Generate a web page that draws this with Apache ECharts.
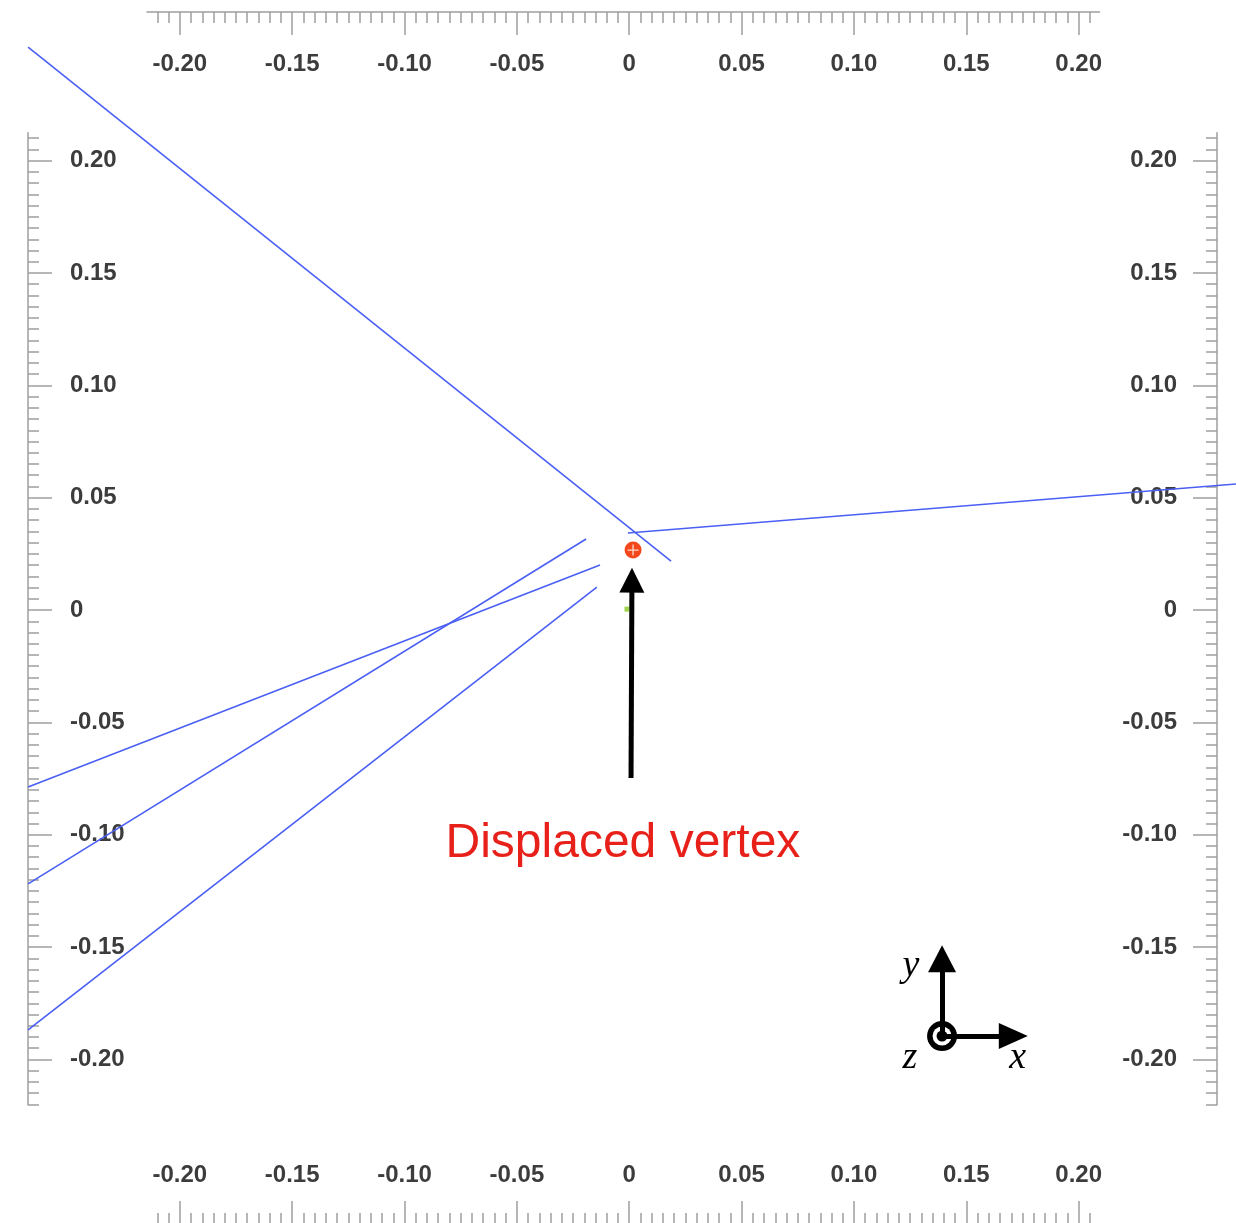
<!DOCTYPE html>
<html>
<head>
<meta charset="utf-8">
<title>Displaced vertex</title>
<script src="https://cdn.jsdelivr.net/npm/echarts@6/dist/echarts.min.js"></script>
<style>
  html, body { margin: 0; padding: 0; background: #fff; }
  #chart { width: 1236px; height: 1223px; }
</style>
</head>
<body>
<div id="chart"></div>
<script>
  // tracks, [x, y] in the transverse plane
  var track1 = [[-0.2675, 0.2505], [0.0186, 0.0218]]
  var track2 = [[-0.0006, 0.0343], [0.2700, 0.0561]]
  var track3 = [[-0.2675, -0.0788], [-0.0130, 0.0200]]
  var track4 = [[-0.2675, -0.1219], [-0.0192, 0.0316]]
  var track5 = [[-0.2675, -0.1869], [-0.0144, 0.0102]]

  var vertexPos = [0.0017, 0.0267]
  var beamSpot = [-0.0010, 0.0004]

  // annotation arrow and the x/y/z sketch
  var arrowTail = [0.0008, -0.0748]
  var arrowHead = [0.0012, 0.0133]
  var textPos = [-0.0028, -0.1042]
  var axesOrigin = [0.1392, -0.1896]
  var axesYTip = [0.1392, -0.1552]
  var axesXTip = [0.1709, -0.1896]
  var labelY = [0.1254, -0.1585]
  var labelZ = [0.1249, -0.1995]
  var labelX = [0.1729, -0.1995]

  // ruler ticks
  var majorTicks = [-0.20, -0.15, -0.10, -0.05, 0, 0.05, 0.10, 0.15, 0.20]
  var hRange = [-0.2146, 0.2093]
  var vRange = [-0.2202, 0.2124]

  var X_MIN = -0.28, X_MAX = 0.27, Y_MIN = -0.2728, Y_MAX = 0.2715
  var W = 1236, H = 1223
  function xPx(v) { return (v - X_MIN) * W / (X_MAX - X_MIN) }
  function yPx(v) { return (Y_MAX - v) * H / (Y_MAX - Y_MIN) }

  function stepsIn(range, step) {
    var out = []
    var k0 = Math.ceil(range[0] / step - 1e-9)
    var k1 = Math.floor(range[1] / step + 1e-9)
    for (var k = k0; k <= k1; k++) out.push(Math.round(k * step * 1e6) / 1e6)
    return out
  }
  function fmt(v) { return Math.abs(v) < 1e-9 ? '0' : v.toFixed(2) }

  var tickColor = '#9e9e9e'
  var labelStyle = { fontSize: 24, fontWeight: 'bold', color: '#3c3c3c', fontFamily: 'Liberation Sans, Arial, sans-serif' }

  var grids = [{ left: 0, top: 0, width: W, height: H, outerBoundsMode: 'none' }]
  var xAxes = [{ type: 'value', gridIndex: 0, min: X_MIN, max: X_MAX, show: false }]
  var yAxes = [{ type: 'value', gridIndex: 0, min: Y_MIN, max: Y_MAX, show: false }]

  function rulerAxis(range, position, ticks, len, labels, margin, showLine) {
    return {
      type: 'value', min: range[0], max: range[1], position: position,
      axisLine: { show: showLine, onZero: false, lineStyle: { color: tickColor, width: 1.5 } },
      axisTick: { show: true, inside: true, length: len, customValues: ticks, lineStyle: { color: tickColor, width: 1.5 } },
      axisLabel: Object.assign({ show: !!labels, inside: true, margin: margin, customValues: labels || [], formatter: fmt }, labelStyle),
      splitLine: { show: false }, minorTick: { show: false }
    }
  }

  function hRuler(top, position, margin) {
    var rect = { left: xPx(hRange[0]), width: xPx(hRange[1]) - xPx(hRange[0]), top: top, height: 10, outerBoundsMode: 'none' }
    var minor = stepsIn(hRange, 0.005)
    ;[[minor, 11, null, true], [majorTicks, 23, majorTicks, false]].forEach(function (d) {
      var gi = grids.length
      grids.push(Object.assign({}, rect))
      xAxes.push(Object.assign(rulerAxis(hRange, position, d[0], d[1], d[2], margin, d[3]), { gridIndex: gi }))
      yAxes.push({ type: 'value', gridIndex: gi, min: 0, max: 1, show: false })
    })
  }

  function vRuler(left, position, margin) {
    var rect = { top: yPx(vRange[1]), height: yPx(vRange[0]) - yPx(vRange[1]), left: left, width: 10, outerBoundsMode: 'none' }
    var minor = stepsIn(vRange, 0.005)
    ;[[minor, 11, null, true], [majorTicks, 24, majorTicks, false]].forEach(function (d) {
      var gi = grids.length
      grids.push(Object.assign({}, rect))
      yAxes.push(Object.assign(rulerAxis(vRange, position, d[0], d[1], d[2], margin, d[3]), { gridIndex: gi }))
      xAxes.push({ type: 'value', gridIndex: gi, min: 0, max: 1, show: false })
    })
  }

  hRuler(12, 'top', 40)
  hRuler(1214, 'bottom', 37)
  vRuler(28, 'left', 42)
  vRuler(1207, 'right', 40)

  function trackSeries(data) {
    return {
      type: 'line', data: data, symbol: 'none', clip: false, silent: true,
      lineStyle: { color: '#4a5ff4', width: 1.6 }
    }
  }

  function dot(pos, size, color, symbol) {
    return {
      type: 'scatter', data: [pos], symbol: symbol || 'circle', symbolSize: size, silent: true,
      itemStyle: { color: color, opacity: 1 }
    }
  }

  function arrow(from, to, size) {
    return [{ coord: from, symbol: 'none' }, { coord: to, symbol: 'triangle', symbolSize: size }]
  }

  function textSeries(pos, text, style) {
    return {
      type: 'scatter', data: [pos], symbolSize: 1, silent: true,
      itemStyle: { color: 'rgba(0,0,0,0)', opacity: 1 },
      label: Object.assign({ show: true, position: 'inside', formatter: text, align: 'center', verticalAlign: 'middle', opacity: 1 }, style)
    }
  }

  var serif = { fontFamily: 'Liberation Serif, Times New Roman, serif', fontStyle: 'italic', fontSize: 38, color: '#000' }

  var series = [
    trackSeries(track1), trackSeries(track2), trackSeries(track3), trackSeries(track4), trackSeries(track5),
    dot(beamSpot, 5, '#9fd54e', 'rect'),
    dot(vertexPos, 17, '#f4481c'),
    dot(vertexPos, 11, 'rgba(255,225,210,0.95)', 'path://M0,4.4h10v1.2h-10z M4.4,0h1.2v10h-1.2z'),
    {
      type: 'line', data: [], silent: true,
      markLine: {
        silent: true, animation: false,
        symbol: ['none', 'triangle'],
        label: { show: false },
        lineStyle: { color: '#000', width: 5, type: 'solid', opacity: 1 },
        emphasis: { disabled: true },
        data: [
          arrow(arrowTail, arrowHead, [25, 25]),
          arrow(axesOrigin, axesYTip, [28, 27]),
          arrow(axesOrigin, axesXTip, [26, 29])
        ]
      }
    },
    dot(axesOrigin, 30, '#000'),
    dot(axesOrigin, 19, '#fff'),
    dot(axesOrigin, 11, '#000'),
    textSeries(labelY, 'y', serif),
    textSeries(labelZ, 'z', serif),
    textSeries(labelX, 'x', serif),
    textSeries(textPos, 'Displaced vertex', { fontSize: 48, color: '#e8201a', fontFamily: 'Liberation Sans, Arial, sans-serif' })
  ]

  var chart = echarts.init(document.getElementById('chart'))
  chart.setOption({
    animation: false,
    backgroundColor: '#fff',
    grid: grids,
    xAxis: xAxes,
    yAxis: yAxes,
    series: series
  })
  window.addEventListener('resize', function () { chart.resize() })
</script>
</body>
</html>
